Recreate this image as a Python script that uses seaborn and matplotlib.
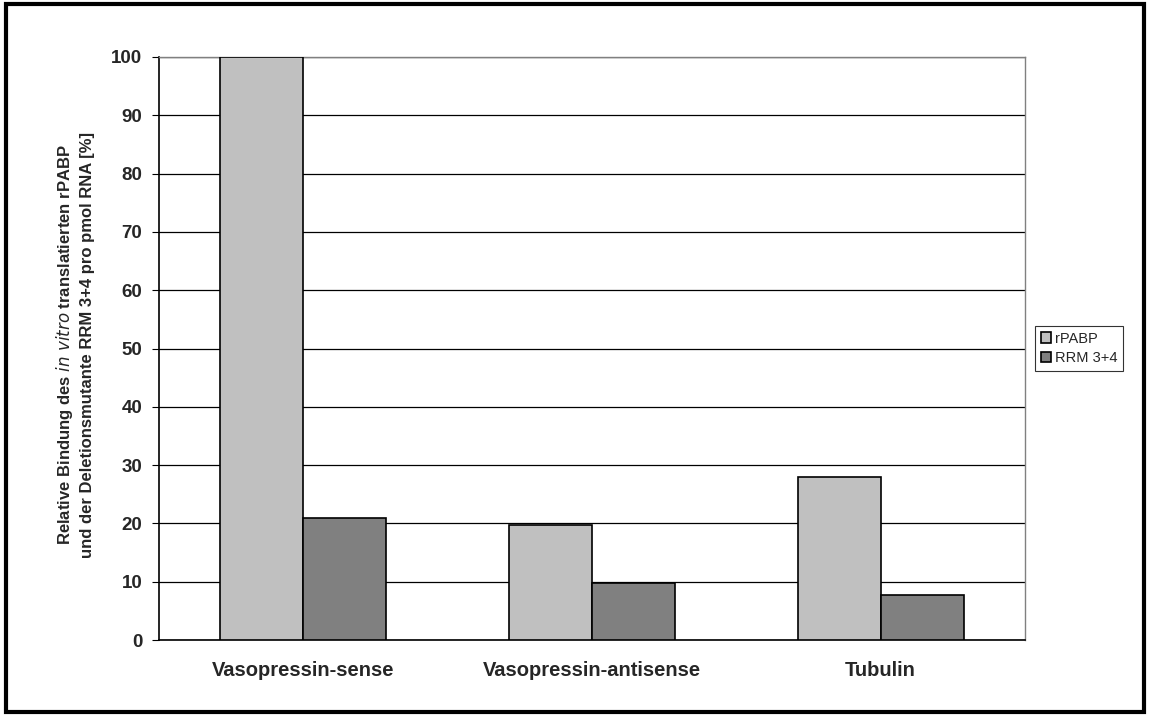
import matplotlib
matplotlib.use("Agg")
import matplotlib.pyplot as plt
import seaborn as sns
import pandas as pd
import numpy as np
from matplotlib.patches import Rectangle

categories = ["Vasopressin-sense", "Vasopressin-antisense", "Tubulin"]
series_names = ["rPABP", "RRM 3+4"]
rpabp = [100, 19.8, 27.9]
rrm = [21.0, 9.8, 7.7]
yticks = [0, 10, 20, 30, 40, 50, 60, 70, 80, 90, 100]

df = pd.DataFrame({
    "cat": categories * 2,
    "series": [series_names[0]] * 3 + [series_names[1]] * 3,
    "value": rpabp + rrm,
})

sns.set_style("white")
plt.rcParams['font.family'] = ['Liberation Sans', 'DejaVu Sans']

fig = plt.figure(figsize=(11.5, 7.16), dpi=100)
ax = fig.add_axes([0.1383, 0.1061, 0.7530, 0.8143])

sns.barplot(data=df, x="cat", y="value", hue="series", order=categories,
            hue_order=series_names, palette=["#c0c0c0", "#808080"],
            width=0.575, edgecolor="black", linewidth=1.2, ax=ax, zorder=3,
            legend=True)

ax.set_ylim(0, 100)
ax.set_xlim(-0.5, 2.5)
ax.set_yticks(yticks)
ax.set_yticklabels([str(t) for t in yticks], fontsize=13.5, fontweight="bold")
ax.set_xticks(range(3))
ax.set_xticklabels(categories, fontsize=14.5, fontweight="bold")
ax.tick_params(axis="x", which="major", length=0, pad=15)
ax.set_xticks([-0.5, 0.5, 1.5, 2.5], minor=True)
ax.tick_params(axis="x", which="minor", length=5, width=0.8, color="black", direction="out")
ax.tick_params(axis="y", length=5, width=0.8, color="black", direction="out", left=True, pad=7)
ax.yaxis.grid(True, color="black", linewidth=0.9, zorder=0)
ax.set_axisbelow(True)
for s in ["top", "right"]:
    ax.spines[s].set_color("#808080")
    ax.spines[s].set_linewidth(1.0)
for s in ["left", "bottom"]:
    ax.spines[s].set_color("black")
    ax.spines[s].set_linewidth(1.2)
ax.set_xlabel("")
ax.set_ylabel("Relative Bindung des $\\it{in\\ vitro}$ translatierten rPABP\nund der Deletionsmutante RRM 3+4 pro pmol RNA [%]",
              fontsize=12, fontweight="bold", linespacing=1.45)
ax.yaxis.set_label_coords(-0.074, 0.506)

leg = ax.legend(loc="center left", bbox_to_anchor=(1.012, 0.5), frameon=True, fancybox=False,
                edgecolor="black", fontsize=10.5, handlelength=0.7, handleheight=0.7,
                handletextpad=0.25, borderpad=0.4, labelspacing=0.4, borderaxespad=0)
leg.get_frame().set_linewidth(0.8)

fig.patches.append(Rectangle((0.005, 0.005), 0.99, 0.99, transform=fig.transFigure,
                             fill=False, edgecolor="black", linewidth=3))

fig.savefig("out.png", dpi=100)
